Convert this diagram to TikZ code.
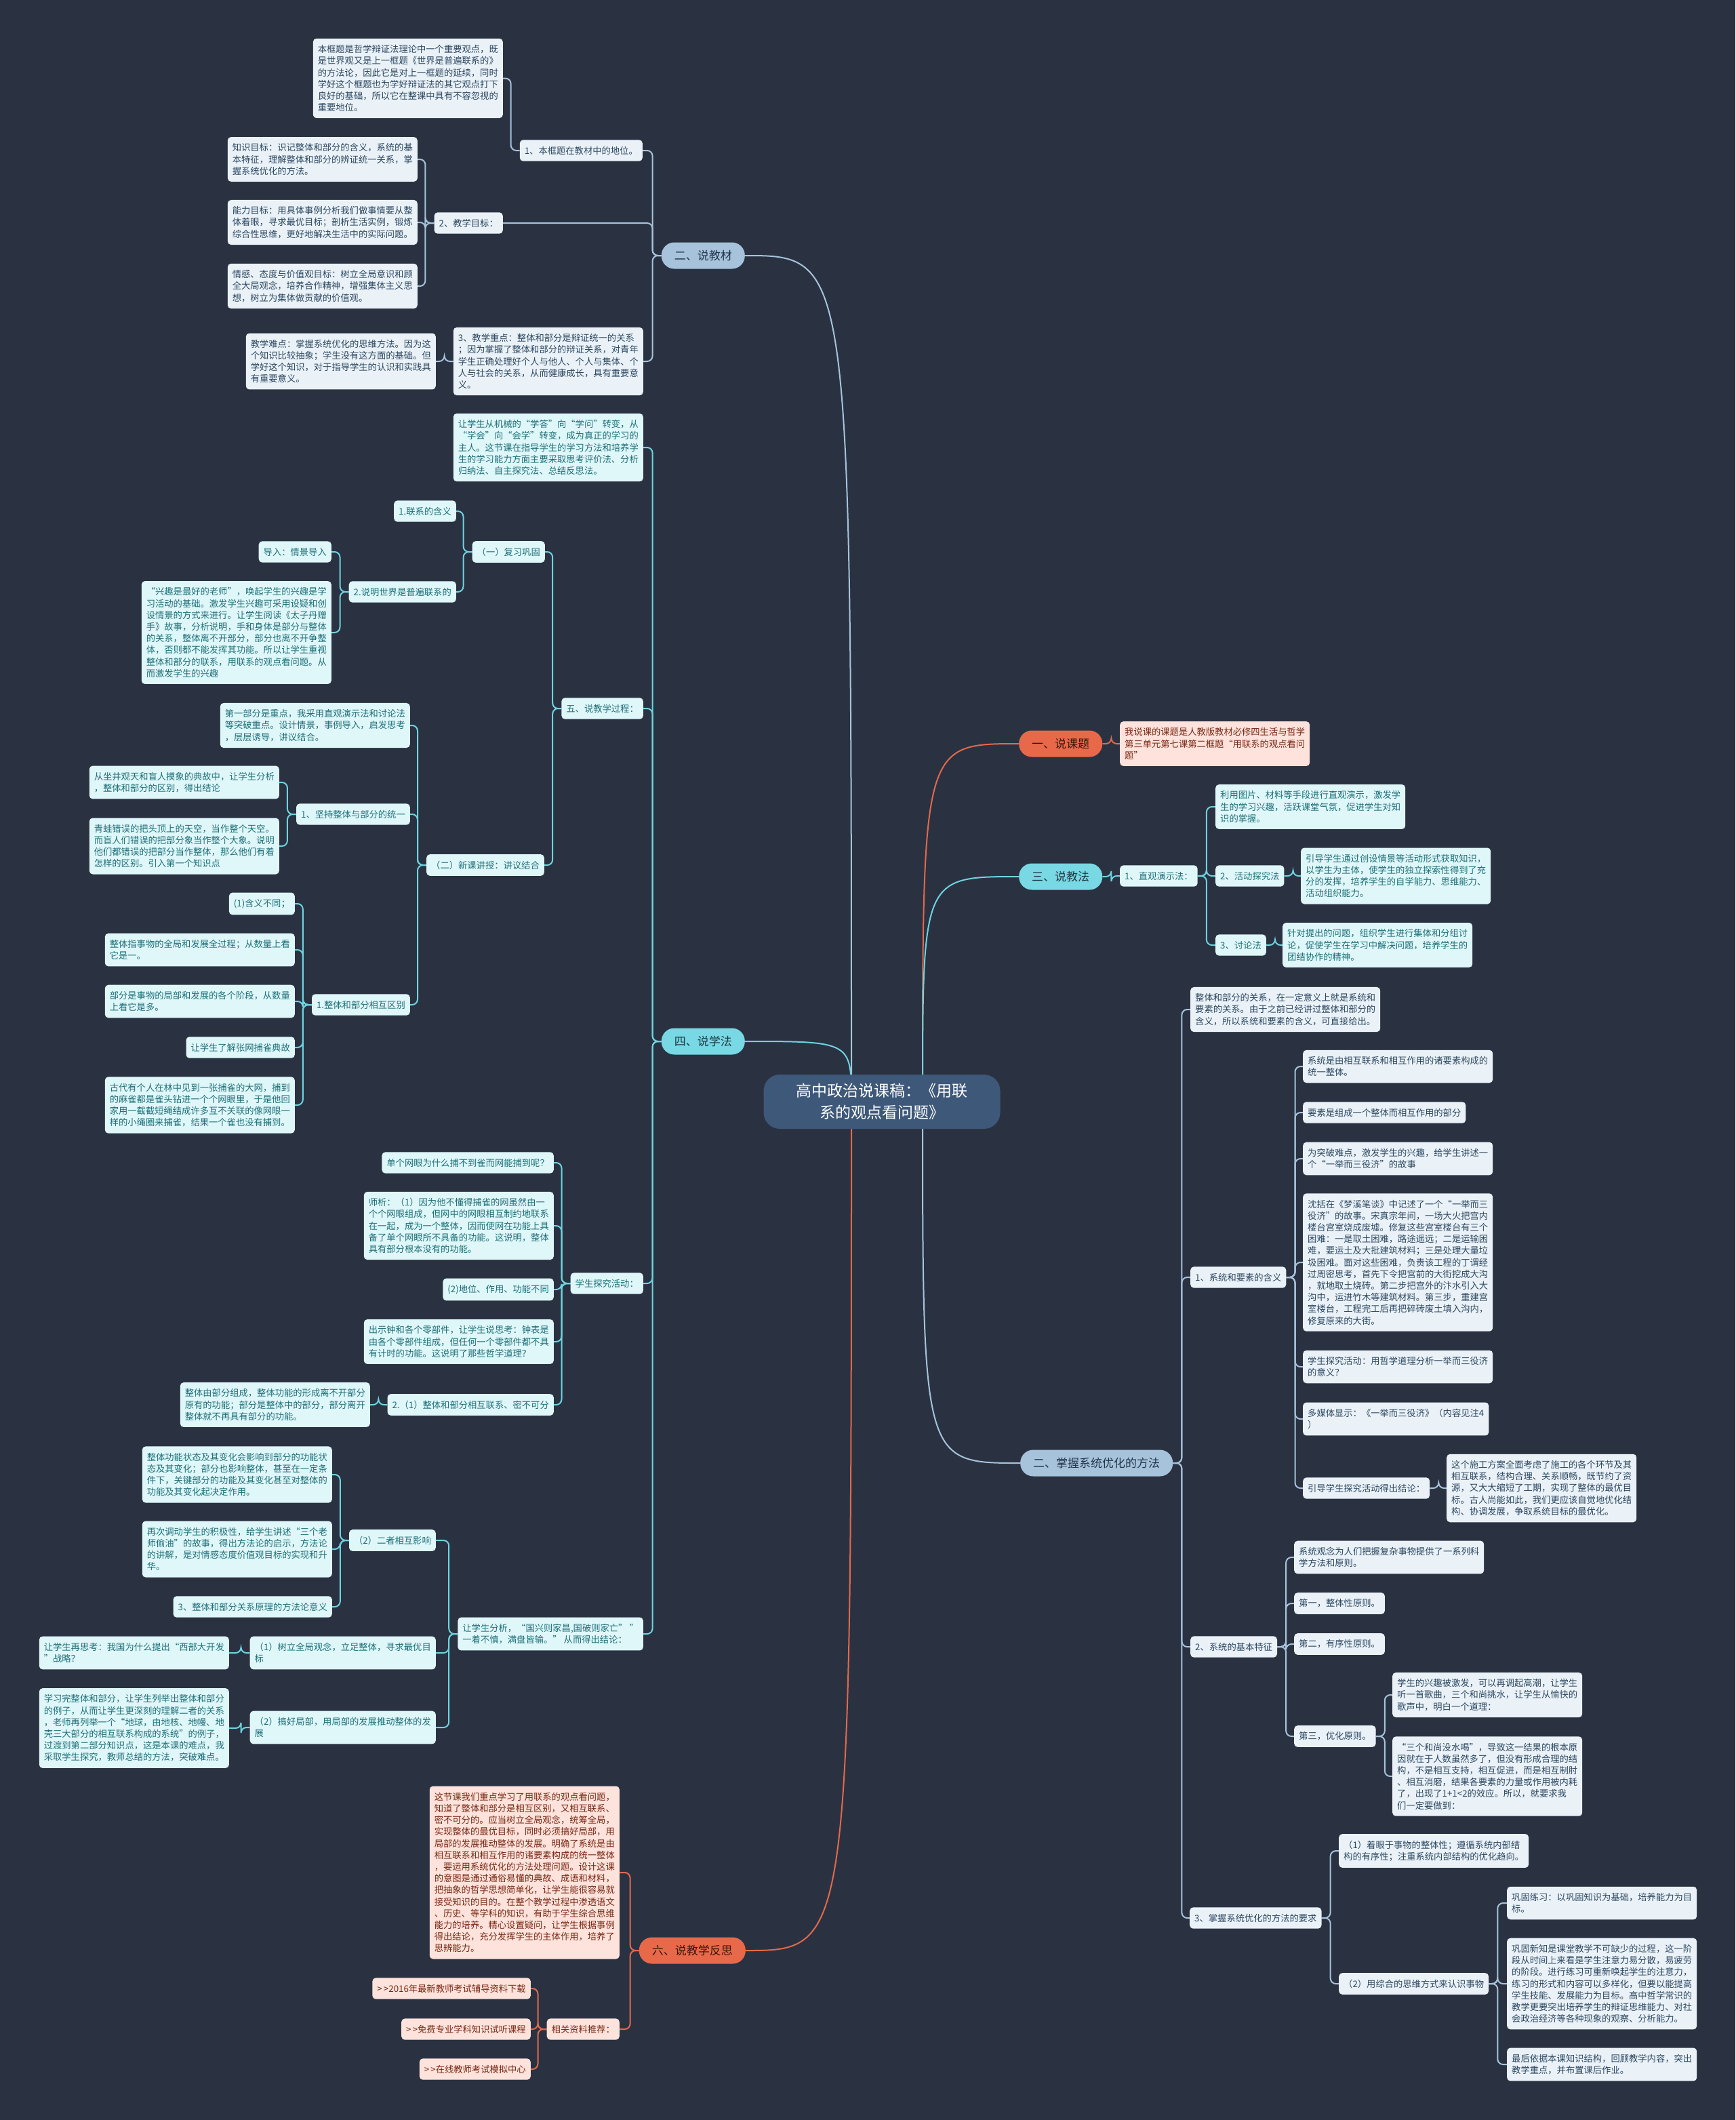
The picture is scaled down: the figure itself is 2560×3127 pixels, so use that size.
\documentclass[tikz,border=0pt]{standalone}
\usepackage{fontspec}
\setmainfont{Noto Sans CJK SC}
\usetikzlibrary{calc}

\definecolor{bgc}{HTML}{2A3242}
\definecolor{rootc}{HTML}{3E5879}
\definecolor{gmain}{HTML}{A6C3DB}
\definecolor{glc}{HTML}{A6C3DB}
\definecolor{gfill}{HTML}{EAF2F8}
\definecolor{gtext}{HTML}{2C4760}
\definecolor{gmt}{HTML}{22344A}
\definecolor{cmain}{HTML}{78D8E3}
\definecolor{clc}{HTML}{6DD4DF}
\definecolor{cfill}{HTML}{E0F7F9}
\definecolor{ctext}{HTML}{1C6F78}
\definecolor{cmt}{HTML}{1B3A42}
\definecolor{omain}{HTML}{E8694A}
\definecolor{olc}{HTML}{E2694B}
\definecolor{ofill}{HTML}{FDE3DB}
\definecolor{otext}{HTML}{7A2815}
\definecolor{omt}{HTML}{3A150B}

\pgfdeclarelayer{back}
\pgfdeclarelayer{bg}
\pgfsetlayers{back,bg,main}

\begin{document}
\begin{tikzpicture}[x=1pt,y=-1pt,
  leaf/.style={rounded corners=5pt, inner xsep=7pt, inner ysep=9.5pt, minimum height=30pt,
    align=left, font=\fontsize{13.3}{17.2}\selectfont},
  gleaf/.style={leaf, fill=gfill, text=gtext},
  cleaf/.style={leaf, fill=cfill, text=ctext},
  oleaf/.style={leaf, fill=ofill, text=otext},
  topic/.style={rounded corners=19pt, inner xsep=19pt, inner ysep=4pt, minimum height=39pt,
    font=\fontsize{17}{20}\selectfont},
  gtopic/.style={topic, fill=gmain, text=gmt},
  ctopic/.style={topic, fill=cmain, text=cmt},
  otopic/.style={topic, fill=omain, text=omt},
  gwire/.style={draw=glc, line width=2pt, rounded corners=8pt},
  cwire/.style={draw=clc, line width=2pt, rounded corners=8pt},
  owire/.style={draw=olc, line width=2pt, rounded corners=8pt}]
	\newcommand\lkL[3]{\draw[#1] (#2.west) -- ++(-13,0) |- (#3.east);}
	\newcommand\lkR[3]{\draw[#1] (#2.east) -- ++(13,0) |- (#3.west);}
	\newcommand\rtL[2]{\draw[#1] ($(root.center)+(-45,0)$) .. controls ($(root.center |- #2.east)+(-45,0)$) .. (#2.east);}
	\newcommand\rtR[2]{\draw[#1] ($(root.center)+(60,0)$) .. controls ($(root.center |- #2.west)+(60,0)$) .. (#2.west);}

	\begin{pgfonlayer}{back}
		\fill[bgc] (0,0) rectangle (2560,3127);
	\end{pgfonlayer}
	\useasboundingbox (0,0) rectangle (2560,3127);

	% root
	\node[fill=rootc, text=white, rounded corners=24pt, minimum width=349pt, minimum height=80pt,
	  align=center, font=\fontsize{23}{32}\selectfont] (root) at (1301,1625)
	  {高中政治说课稿：《用联\\系的观点看问题》};

	% main topics
	\node[gtopic, anchor=east] (jiaocai) at (1099,377) {二、说教材};
	\node[ctopic, anchor=east] (xuefa) at (1099,1536) {四、说学法};
	\node[otopic, anchor=east] (fansi) at (1100,2877) {六、说教学反思};
	\node[otopic, anchor=west] (keti) at (1503,1097) {一、说课题};
	\node[ctopic, anchor=west] (jiaofa) at (1503,1293) {三、说教法};
	\node[gtopic, anchor=west] (youhua) at (1505,2158) {二、掌握系统优化的方法};

	% 二、说教材
	\node[gleaf, anchor=east] (diwei) at (948,222) {1、本框题在教材中的地位。};
	\node[gleaf, anchor=east] (mubiao) at (742,329) {2、教学目标：};
	\node[gleaf, anchor=east] (zhongdian) at (949,533) {3、教学重点：整体和部分是辩证统一的关系\\；因为掌握了整体和部分的辩证关系，对青年\\学生正确处理好个人与他人、个人与集体、个\\人与社会的关系，从而健康成长，具有重要意\\义。};
	\node[gleaf, anchor=east] (diweitx) at (742,115.5) {本框题是哲学辩证法理论中一个重要观点，既\\是世界观又是上一框题《世界是普遍联系的》\\的方法论，因此它是对上一框题的延续，同时\\学好这个框题也为学好辩证法的其它观点打下\\良好的基础，所以它在整课中具有不容忽视的\\重要地位。};
	\node[gleaf, anchor=east] (zhishi) at (616,235) {知识目标：识记整体和部分的含义，系统的基\\本特征，理解整体和部分的辨证统一关系，掌\\握系统优化的方法。};
	\node[gleaf, anchor=east] (nengli) at (616,328) {能力目标：用具体事例分析我们做事情要从整\\体着眼，寻求最优目标；剖析生活实例，锻炼\\综合性思维，更好地解决生活中的实际问题。};
	\node[gleaf, anchor=east] (qinggan) at (616,422) {情感、态度与价值观目标：树立全局意识和顾\\全大局观念，培养合作精神，增强集体主义思\\想，树立为集体做贡献的价值观。};
	\node[gleaf, anchor=east] (nandian) at (643,533) {教学难点：掌握系统优化的思维方法。因为这\\个知识比较抽象；学生没有这方面的基础。但\\学好这个知识，对于指导学生的认识和实践具\\有重要意义。};

	% 四、说学法
	\node[cleaf, anchor=east] (zhuren) at (949,660) {让学生从机械的“学答”向“学问”转变，从\\“学会”向“会学”转变，成为真正的学习的\\主人。这节课在指导学生的学习方法和培养学\\生的学习能力方面主要采取思考评价法、分析\\归纳法、自主探究法、总结反思法。};
	\node[cleaf, anchor=east] (guocheng) at (949,1045) {五、说教学过程：};
	\node[cleaf, anchor=east] (tanjiu) at (949,1893) {学生探究活动：};
	\node[cleaf, anchor=east] (guoxing) at (949,2410) {让学生分析，“国兴则家昌,国破则家亡” ”\\一着不慎，满盘皆输。” 从而得出结论：};

	\node[cleaf, anchor=east] (fuxi) at (804,814) {（一）复习巩固};
	\node[cleaf, anchor=east] (xinke) at (803,1276) {（二）新课讲授：讲议结合};
	\node[cleaf, anchor=east] (hanyi) at (673,754) {1.联系的含义};
	\node[cleaf, anchor=east] (pubian) at (673,873) {2.说明世界是普遍联系的};
	\node[cleaf, anchor=east] (daoru) at (489,814) {导入：情景导入};
	\node[cleaf, anchor=east] (xingqu) at (489,933) {“兴趣是最好的老师”，唤起学生的兴趣是学\\习活动的基础。激发学生兴趣可采用设疑和创\\设情景的方式来进行。让学生阅读《太子丹赠\\手》故事，分析说明，手和身体是部分与整体\\的关系，整体离不开部分，部分也离不开争整\\体，否则都不能发挥其功能。所以让学生重视\\整体和部分的联系，用联系的观点看问题。从\\而激发学生的兴趣};

	\node[cleaf, anchor=east] (diyibu) at (605,1070) {第一部分是重点，我采用直观演示法和讨论法\\等突破重点。设计情景，事例导入，启发思考\\，层层诱导，讲议结合。};
	\node[cleaf, anchor=east] (tongyi) at (605,1201) {1、坚持整体与部分的统一};
	\node[cleaf, anchor=east] (qubie) at (605,1482) {1.整体和部分相互区别};
	\node[cleaf, anchor=east] (zuojing) at (412,1154) {从坐井观天和盲人摸象的典故中，让学生分析\\，整体和部分的区别，得出结论};
	\node[cleaf, anchor=east] (qingwa) at (412,1248) {青蛙错误的把头顶上的天空，当作整个天空。\\而盲人们错误的把部分象当作整个大象。说明\\他们都错误的把部分当作整体，那么他们有着\\怎样的区别。引入第一个知识点};
	\node[cleaf, anchor=east] (butong) at (435,1333) {(1)含义不同；};
	\node[cleaf, anchor=east] (zhengti) at (435,1401) {整体指事物的全局和发展全过程；从数量上看\\它是一。};
	\node[cleaf, anchor=east] (bufen) at (435,1477) {部分是事物的局部和发展的各个阶段，从数量\\上看它是多。};
	\node[cleaf, anchor=east] (zhangwang) at (435,1545) {让学生了解张网捕雀典故};
	\node[cleaf, anchor=east] (gudai) at (435,1630) {古代有个人在林中见到一张捕雀的大网，捕到\\的麻雀都是雀头钻进一个个网眼里，于是他回\\家用一截截短绳结成许多互不关联的像网眼一\\样的小绳圈来捕雀，结果一个雀也没有捕到。};

	\node[cleaf, anchor=east] (wangyan) at (817,1715) {单个网眼为什么捕不到雀而网能捕到呢？};
	\node[cleaf, anchor=east] (shixi) at (817,1808) {师析：（1）因为他不懂得捕雀的网虽然由一\\个个网眼组成，但网中的网眼相互制约地联系\\在一起，成为一个整体，因而使网在功能上具\\备了单个网眼所不具备的功能。这说明，整体\\具有部分根本没有的功能。};
	\node[cleaf, anchor=east] (diweiz) at (817,1902) {(2)地位、作用、功能不同};
	\node[cleaf, anchor=east] (zhongbiao) at (817,1979) {出示钟和各个零部件，让学生说思考：钟表是\\由各个零部件组成，但任何一个零部件都不具\\有计时的功能。这说明了那些哲学道理？};
	\node[cleaf, anchor=east] (lianxi) at (817,2072) {2.（1）整体和部分相互联系、密不可分};
	\node[cleaf, anchor=east] (zucheng) at (546,2072) {整体由部分组成，整体功能的形成离不开部分\\原有的功能；部分是整体中的部分，部分离开\\整体就不再具有部分的功能。};

	\node[cleaf, anchor=east] (yingxiang) at (643,2272) {（2）二者相互影响};
	\node[cleaf, anchor=east] (quanju) at (643,2438) {（1）树立全局观念，立足整体，寻求最优目\\标};
	\node[cleaf, anchor=east] (jubu) at (643,2548) {（2）搞好局部，用局部的发展推动整体的发\\展};
	\node[cleaf, anchor=east] (zhuangtai) at (490,2175) {整体功能状态及其变化会影响到部分的功能状\\态及其变化；部分也影响整体，甚至在一定条\\件下，关键部分的功能及其变化甚至对整体的\\功能及其变化起决定作用。};
	\node[cleaf, anchor=east] (touyou) at (490,2285) {再次调动学生的积极性，给学生讲述“三个老\\师偷油”的故事，得出方法论的启示，方法论\\的讲解，是对情感态度价值观目标的实现和升\\华。};
	\node[cleaf, anchor=east] (yiyi) at (490,2370) {3、整体和部分关系原理的方法论意义};
	\node[cleaf, anchor=east] (xibu) at (338,2438) {让学生再思考：我国为什么提出“西部大开发\\”战略？};
	\node[cleaf, anchor=east] (diqiu) at (338,2549) {学习完整体和部分，让学生列举出整体和部分\\的例子，从而让学生更深刻的理解二者的关系\\，老师再列举一个“地球，由地核、地幔、地\\壳三大部分的相互联系构成的系统”的例子，\\过渡到第二部分知识点，这是本课的难点，我\\采取学生探究，教师总结的方法，突破难点。};

	% 六、说教学反思
	\node[oleaf, anchor=east] (zongjie) at (914,2762) {这节课我们重点学习了用联系的观点看问题，\\知道了整体和部分是相互区别，又相互联系、\\密不可分的。应当树立全局观念，统筹全局，\\实现整体的最优目标，同时必须搞好局部，用\\局部的发展推动整体的发展。明确了系统是由\\相互联系和相互作用的诸要素构成的统一整体\\，要运用系统优化的方法处理问题。设计这课\\的意图是通过通俗易懂的典故、成语和材料，\\把抽象的哲学思想简单化，让学生能很容易就\\接受知识的目的。在整个教学过程中渗透语文\\、历史、等学科的知识，有助于学生综合思维\\能力的培养。精心设置疑问，让学生根据事例\\得出结论，充分发挥学生的主体作用，培养了\\思辨能力。};
	\node[oleaf, anchor=east] (ziliao) at (914,2993) {相关资料推荐：};
	\node[oleaf, anchor=east] (xiazai) at (783,2933) {>\,>2016年最新教师考试辅导资料下载};
	\node[oleaf, anchor=east] (shiting) at (783,2993) {>\,>免费专业学科知识试听课程};
	\node[oleaf, anchor=east] (moni) at (783,3052) {>\,>在线教师考试模拟中心};

	% 一、说课题
	\node[oleaf, anchor=west] (ketitx) at (1652,1097) {我说课的课题是人教版教材必修四生活与哲学\\第三单元第七课第二框题“用联系的观点看问\\题”};

	% 三、说教法
	\node[cleaf, anchor=west] (zhiguan) at (1652,1292) {1、直观演示法：};
	\node[cleaf, anchor=west] (tupian) at (1793,1190) {利用图片、材料等手段进行直观演示，激发学\\生的学习兴趣，活跃课堂气氛，促进学生对知\\识的掌握。};
	\node[cleaf, anchor=west] (huodong) at (1793,1292) {2、活动探究法};
	\node[cleaf, anchor=west] (taolun) at (1793,1394) {3、讨论法};
	\node[cleaf, anchor=west] (huodongtx) at (1919,1292) {引导学生通过创设情景等活动形式获取知识，\\以学生为主体，使学生的独立探索性得到了充\\分的发挥，培养学生的自学能力、思维能力、\\活动组织能力。};
	\node[cleaf, anchor=west] (taoluntx) at (1892,1394) {针对提出的问题，组织学生进行集体和分组讨\\论，促使学生在学习中解决问题，培养学生的\\团结协作的精神。};

	% 二、掌握系统优化的方法
	\node[gleaf, anchor=west] (yaosu) at (1756,1489) {整体和部分的关系，在一定意义上就是系统和\\要素的关系。由于之前已经讲过整体和部分的\\含义，所以系统和要素的含义，可直接给出。};
	\node[gleaf, anchor=west] (xthy) at (1756,1884) {1、系统和要素的含义};
	\node[gleaf, anchor=west] (tezheng) at (1756,2429) {2、系统的基本特征};
	\node[gleaf, anchor=west] (yaoqiu) at (1755,2829) {3、掌握系统优化的方法的要求};

	\node[gleaf, anchor=west] (xitong) at (1922,1573) {系统是由相互联系和相互作用的诸要素构成的\\统一整体。};
	\node[gleaf, anchor=west] (yaosuz) at (1922,1641) {要素是组成一个整体而相互作用的部分};
	\node[gleaf, anchor=west] (tupo) at (1922,1709) {为突破难点，激发学生的兴趣，给学生讲述一\\个“一举而三役济”的故事};
	\node[gleaf, anchor=west] (shenkuo) at (1922,1862) {沈括在《梦溪笔谈》中记述了一个“一举而三\\役济”的故事。宋真宗年间，一场大火把宫内\\楼台宫室烧成废墟。修复这些宫室楼台有三个\\困难：一是取土困难，路途遥远；二是运输困\\难，要运土及大批建筑材料；三是处理大量垃\\圾困难。面对这些困难，负责该工程的丁谓经\\过周密思考，首先下令把宫前的大街挖成大沟\\，就地取土烧砖。第二步把宫外的汴水引入大\\沟中，运进竹木等建筑材料。第三步，重建宫\\室楼台，工程完工后再把碎砖废土填入沟内，\\修复原来的大街。};
	\node[gleaf, anchor=west] (fenxi) at (1922,2016) {学生探究活动：用哲学道理分析一举而三役济\\的意义？};
	\node[gleaf, anchor=west] (duomeiti) at (1922,2093) {多媒体显示：《一举而三役济》（内容见注4\\）};
	\node[gleaf, anchor=west] (jielun) at (1922,2195) {引导学生探究活动得出结论：};
	\node[gleaf, anchor=west] (fangan) at (2134,2195) {这个施工方案全面考虑了施工的各个环节及其\\相互联系，结构合理、关系顺畅，既节约了资\\源，又大大缩短了工期，实现了整体的最优目\\标。古人尚能如此，我们更应该自觉地优化结\\构、协调发展，争取系统目标的最优化。};

	\node[gleaf, anchor=west] (guannian) at (1909,2297) {系统观念为人们把握复杂事物提供了一系列科\\学方法和原则。};
	\node[gleaf, anchor=west] (diyi) at (1909,2365) {第一，整体性原则。};
	\node[gleaf, anchor=west] (dier) at (1909,2425) {第二，有序性原则。};
	\node[gleaf, anchor=west] (disan) at (1909,2561) {第三，优化原则。};
	\node[gleaf, anchor=west] (gequ) at (2054,2500) {学生的兴趣被激发，可以再调起高潮，让学生\\听一首歌曲，三个和尚挑水，让学生从愉快的\\歌声中，明白一个道理：};
	\node[gleaf, anchor=west] (heshang) at (2054,2620) {“三个和尚没水喝”，导致这一结果的根本原\\因就在于人数虽然多了，但没有形成合理的结\\构，不是相互支持，相互促进，而是相互制肘\\、相互消磨，结果各要素的力量或作用被内耗\\了，出现了1+1<2的效应。所以，就要求我\\们一定要做到：};

	\node[gleaf, anchor=west] (zhuoyan) at (1975,2730) {（1）着眼于事物的整体性；遵循系统内部结\\构的有序性；注重系统内部结构的优化趋向。};
	\node[gleaf, anchor=west] (zonghe) at (1975,2926) {（2）用综合的思维方式来认识事物};
	\node[gleaf, anchor=west] (lianxi1) at (2223,2807) {巩固练习：以巩固知识为基础，培养能力为目\\标。};
	\node[gleaf, anchor=west] (xinzhi) at (2223,2926) {巩固新知是课堂教学不可缺少的过程，这一阶\\段从时间上来看是学生注意力易分散，易疲劳\\的阶段。进行练习可重新唤起学生的注意力，\\练习的形式和内容可以多样化，但要以能提高\\学生技能、发展能力为目标。高中哲学常识的\\教学更要突出培养学生的辩证思维能力、对社\\会政治经济等各种现象的观察、分析能力。};
	\node[gleaf, anchor=west] (zuoye) at (2223,3045) {最后依据本课知识结构，回顾教学内容，突出\\教学重点，并布置课后作业。};

	\begin{pgfonlayer}{bg}
		% root to topics
		\rtL{gwire}{jiaocai}
		\rtL{cwire}{xuefa}
		\rtL{owire}{fansi}
		\rtR{owire}{keti}
		\rtR{cwire}{jiaofa}
		\rtR{gwire}{youhua}

		\lkL{gwire}{jiaocai}{diwei}
		\lkL{gwire}{jiaocai}{mubiao}
		\lkL{gwire}{jiaocai}{zhongdian}
		\lkL{gwire}{diwei}{diweitx}
		\lkL{gwire}{mubiao}{zhishi}
		\lkL{gwire}{mubiao}{nengli}
		\lkL{gwire}{mubiao}{qinggan}
		\lkL{gwire}{zhongdian}{nandian}

		\lkL{cwire}{xuefa}{zhuren}
		\lkL{cwire}{xuefa}{guocheng}
		\lkL{cwire}{xuefa}{tanjiu}
		\lkL{cwire}{xuefa}{guoxing}
		\lkL{cwire}{guocheng}{fuxi}
		\lkL{cwire}{guocheng}{xinke}
		\lkL{cwire}{fuxi}{hanyi}
		\lkL{cwire}{fuxi}{pubian}
		\lkL{cwire}{pubian}{daoru}
		\lkL{cwire}{pubian}{xingqu}
		\lkL{cwire}{xinke}{diyibu}
		\lkL{cwire}{xinke}{tongyi}
		\lkL{cwire}{xinke}{qubie}
		\lkL{cwire}{tongyi}{zuojing}
		\lkL{cwire}{tongyi}{qingwa}
		\lkL{cwire}{qubie}{butong}
		\lkL{cwire}{qubie}{zhengti}
		\lkL{cwire}{qubie}{bufen}
		\lkL{cwire}{qubie}{zhangwang}
		\lkL{cwire}{qubie}{gudai}
		\lkL{cwire}{tanjiu}{wangyan}
		\lkL{cwire}{tanjiu}{shixi}
		\lkL{cwire}{tanjiu}{diweiz}
		\lkL{cwire}{tanjiu}{zhongbiao}
		\lkL{cwire}{tanjiu}{lianxi}
		\lkL{cwire}{lianxi}{zucheng}
		\lkL{cwire}{guoxing}{yingxiang}
		\lkL{cwire}{guoxing}{quanju}
		\lkL{cwire}{guoxing}{jubu}
		\lkL{cwire}{yingxiang}{zhuangtai}
		\lkL{cwire}{yingxiang}{touyou}
		\lkL{cwire}{yingxiang}{yiyi}
		\lkL{cwire}{quanju}{xibu}
		\lkL{cwire}{jubu}{diqiu}

		\lkL{owire}{fansi}{zongjie}
		\lkL{owire}{fansi}{ziliao}
		\lkL{owire}{ziliao}{xiazai}
		\lkL{owire}{ziliao}{shiting}
		\lkL{owire}{ziliao}{moni}

		\lkR{owire}{keti}{ketitx}
		\lkR{cwire}{jiaofa}{zhiguan}
		\lkR{cwire}{zhiguan}{tupian}
		\lkR{cwire}{zhiguan}{huodong}
		\lkR{cwire}{zhiguan}{taolun}
		\lkR{cwire}{huodong}{huodongtx}
		\lkR{cwire}{taolun}{taoluntx}

		\lkR{gwire}{youhua}{yaosu}
		\lkR{gwire}{youhua}{xthy}
		\lkR{gwire}{youhua}{tezheng}
		\lkR{gwire}{youhua}{yaoqiu}
		\lkR{gwire}{xthy}{xitong}
		\lkR{gwire}{xthy}{yaosuz}
		\lkR{gwire}{xthy}{tupo}
		\lkR{gwire}{xthy}{shenkuo}
		\lkR{gwire}{xthy}{fenxi}
		\lkR{gwire}{xthy}{duomeiti}
		\lkR{gwire}{xthy}{jielun}
		\lkR{gwire}{jielun}{fangan}
		\lkR{gwire}{tezheng}{guannian}
		\lkR{gwire}{tezheng}{diyi}
		\lkR{gwire}{tezheng}{dier}
		\lkR{gwire}{tezheng}{disan}
		\lkR{gwire}{disan}{gequ}
		\lkR{gwire}{disan}{heshang}
		\lkR{gwire}{yaoqiu}{zhuoyan}
		\lkR{gwire}{yaoqiu}{zonghe}
		\lkR{gwire}{zonghe}{lianxi1}
		\lkR{gwire}{zonghe}{xinzhi}
		\lkR{gwire}{zonghe}{zuoye}
	\end{pgfonlayer}
\end{tikzpicture}
\end{document}
